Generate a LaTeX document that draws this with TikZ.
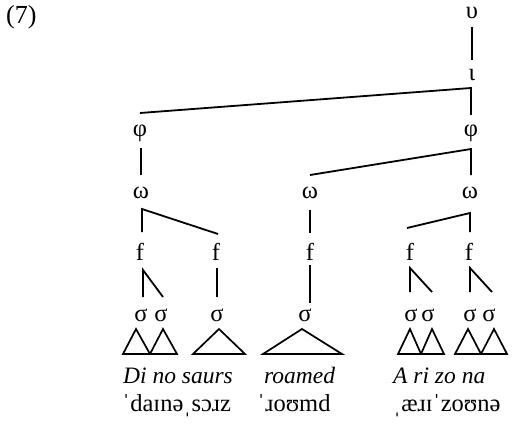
\documentclass[tikz,border=0pt]{standalone}
\usepackage{fontspec}
\setmainfont{Liberation Serif}
\begin{document}
\begin{tikzpicture}[x=1pt,y=-1pt,
  lbl/.style={inner sep=0pt, font=\fontsize{24.5}{29}\selectfont},
  word/.style={inner sep=0pt, anchor=base, font=\fontsize{23.5}{28}\selectfont\itshape},
  ipa/.style={inner sep=0pt, anchor=base, font=\fontsize{24.5}{29}\selectfont},
  branch/.style={line width=1.8pt, line cap=butt, line join=miter},
  tri/.style={line width=1.7pt, line join=miter}]
\useasboundingbox (0,0) rectangle (516,425);

% example number
\node[lbl, anchor=base west, font=\fontsize{26}{30}\selectfont] (ex) at (6,24) {(7)};

% prosodic categories
\node[lbl] (utt) at (472,13) {υ};
\node[lbl] (ip)  at (472,75) {ι};
\node[lbl] (phA) at (140,133) {φ};
\node[lbl] (phB) at (471,133) {φ};
\node[lbl] (wA)  at (141,193) {ω};
\node[lbl] (wB)  at (310,193) {ω};
\node[lbl] (wC)  at (470,193) {ω};
\node[lbl] (fA)  at (140,252) {f};
\node[lbl] (fB)  at (216,252) {f};
\node[lbl] (fC)  at (310,252) {f};
\node[lbl] (fD)  at (410,252) {f};
\node[lbl] (fE)  at (469,252) {f};
\node[lbl] (sA)  at (141,315) {σ};
\node[lbl] (sB)  at (161,315) {σ};
\node[lbl] (sC)  at (217,315) {σ};
\node[lbl] (sD)  at (305,315) {σ};
\node[lbl] (sE)  at (411,315) {σ};
\node[lbl] (sF)  at (428,315) {σ};
\node[lbl] (sG)  at (470,315) {σ};
\node[lbl] (sH)  at (489,315) {σ};

% branch end points
\coordinate (uLo) at (472,27);  \coordinate (iHi) at (472,60);
\coordinate (iK)  at (471,88);  \coordinate (iL) at (140,113); \coordinate (iR) at (471,115);
\coordinate (pAlo) at (141,148); \coordinate (pAw) at (141,175);
\coordinate (pBK) at (471,149); \coordinate (pBl) at (310,175); \coordinate (pBr) at (471,175);
\coordinate (wAK) at (142,209); \coordinate (wAd) at (142,232); \coordinate (wAr) at (218,234);
\coordinate (wBhi) at (310,210); \coordinate (wBlo) at (310,233);
\coordinate (wCK) at (470,213); \coordinate (wCl) at (407,228); \coordinate (wCd) at (470,232);
\coordinate (fAK) at (143,270); \coordinate (fAd) at (143,297); \coordinate (fAr) at (163,297);
\coordinate (fBhi) at (217,268); \coordinate (fBlo) at (217,297);
\coordinate (fChi) at (310,265); \coordinate (fClo) at (310,303);
\coordinate (fDK) at (410,268); \coordinate (fDd) at (410,292); \coordinate (fDr) at (432,292);
\coordinate (fEK) at (470,268); \coordinate (fEd) at (470,292); \coordinate (fEr) at (492,292);

% branches
\draw[branch] (uLo) -- (iHi);
\draw[branch] (iL) -- (iK) -- (iR);
\draw[branch] (pAlo) -- (pAw);
\draw[branch] (pBl) -- (pBK) -- (pBr);
\draw[branch] (wAd) -- (wAK) -- (wAr);
\draw[branch] (wBhi) -- (wBlo);
\draw[branch] (wCl) -- (wCK) -- (wCd);
\draw[branch] (fAd) -- (fAK) -- (fAr);
\draw[branch] (fBhi) -- (fBlo);
\draw[branch] (fChi) -- (fClo);
\draw[branch] (fDd) -- (fDK) -- (fDr);
\draw[branch] (fEd) -- (fEK) -- (fEr);

% syllable triangles
\draw[tri] (123,354) -- (136,329) -- (150,354) -- cycle;
\draw[tri] (150,354) -- (163,329) -- (177,354) -- cycle;
\draw[tri] (193,354) -- (219,329) -- (245,354) -- cycle;
\draw[tri] (263,354) -- (302,329) -- (342,354) -- cycle;
\draw[tri] (398,354) -- (410,329) -- (421,354) -- cycle;
\draw[tri] (421,354) -- (432,329) -- (444,354) -- cycle;
\draw[tri] (455,354) -- (468,329) -- (481,354) -- cycle;
\draw[tri] (481,354) -- (494,329) -- (507,354) -- cycle;

% orthography
\node[word, anchor=base west] (wdA) at (123,383) {Di no saurs};
\node[word, anchor=base west] (wdB) at (264,383) {roamed};
\node[word, anchor=base west] (wdC) at (393,383) {A ri zo na};

% transcription
\node[ipa, anchor=base west] (tA) at (122,411) {ˈdaɪnəˌsɔɹz};
\node[ipa, anchor=base west] (tB) at (257,411) {ˈɹoʊmd};
\node[ipa, anchor=base west] (tC) at (393,411) {ˌæɹɪˈzoʊnə};
\end{tikzpicture}
\end{document}
